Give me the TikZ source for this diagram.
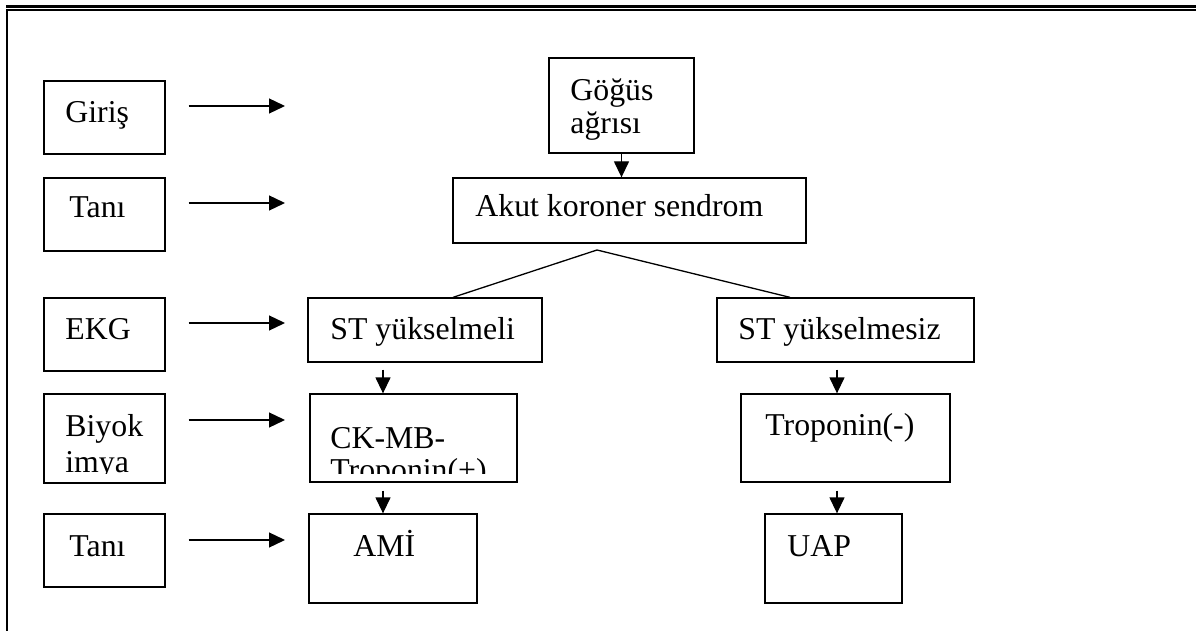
\documentclass[tikz,border=0pt]{standalone}
\usepackage{fontspec}
\setmainfont{Liberation Serif}
\usetikzlibrary{arrows.meta,positioning,calc}

\begin{document}
\begin{tikzpicture}[x=0.5pt, y=-0.5pt,
    box/.style={draw, line width=0.65pt, inner sep=0pt},
    lbl/.style={anchor=base west, inner sep=0pt, font=\fontsize{15.9}{16.5}\selectfont},
    arr/.style={-{Triangle[length=8pt, width=7.5pt]}, line width=0.65pt},
    frame/.style={line width=1.05pt}]
  \useasboundingbox (0,0) rectangle (1196,631);
  % --- Page frame ---
  \draw[frame] (6,6.5) -- (1196,6.5);
  \draw[frame] (6,10) -- (1196,10);
  \draw[frame] (7,10) -- (7,631);
  % --- Left column (steps) ---
  \node[box, minimum width=60.5pt, minimum height=36.5pt] (giris) at (104.5,117.5) {};
  \node[box, minimum width=60.5pt, minimum height=36.5pt] (tani) at (104.5,214.5) {};
  \node[box, minimum width=60.5pt, minimum height=36.5pt] (ekg) at (104.5,334.5) {};
  \node[box, minimum width=60.5pt, minimum height=44.5pt] (biyo) at (104.5,438.5) {};
  \node[box, minimum width=60.5pt, minimum height=36.5pt] (tanib) at (104.5,550.5) {};
  \node[lbl] at (65,123) {Giriş};
  \node[lbl] at (69,218) {Tanı};
  \node[lbl] at (65,340) {EKG};
  \begin{scope}
    \clip (44,394) rectangle (517,473.5);
    \node[lbl] at (65,437) {\begin{tabular}[t]{@{}l@{}}Biyok\\[1pt]imya\end{tabular}};
    \node[lbl] at (330,448) {\begin{tabular}[t]{@{}l@{}}CK-MB-\\Troponin(+)\end{tabular}};
  \end{scope}
  \node[lbl] at (69,556) {Tanı};
  % --- Flow boxes ---
  \node[box, minimum width=72.5pt, minimum height=47.5pt] (gogus) at (621.5,105.5) {};
  \node[box, minimum width=176.5pt, minimum height=32.5pt] (akut) at (629.5,210.5) {};
  \node[box, minimum width=117pt, minimum height=32pt] (styuk) at (425,330) {};
  \node[box, minimum width=103.5pt, minimum height=44pt] (ckmb) at (413.5,438) {};
  \node[box, minimum width=84pt, minimum height=44.5pt] (ami) at (393,558.5) {};
  \node[box, minimum width=128.5pt, minimum height=32pt] (styz) at (845.5,330) {};
  \node[box, minimum width=104.5pt, minimum height=44pt] (trop) at (845.5,438) {};
  \node[box, minimum width=68.5pt, minimum height=44.5pt] (uap) at (833.5,558.5) {};
  \node[lbl] at (570,101) {\begin{tabular}[t]{@{}l@{}}Göğüs\\ağrısı\end{tabular}};
  \node[lbl] at (475,217) {Akut koroner sendrom};
  \node[lbl] at (330,340) {ST yükselmeli};
  \node[lbl] at (353,556) {AMİ};
  \node[lbl] at (738,340) {ST yükselmesiz};
  \node[lbl] at (765,435) {Troponin(-)};
  \node[lbl] at (787,556) {UAP};
  % --- Horizontal arrows ---
  \coordinate (t1) at (285,106);
  \coordinate (t2) at (285,203);
  \coordinate (t3) at (285,323);
  \coordinate (t4) at (285,420);
  \coordinate (t5) at (285,540);
  \draw[arr, shorten <=11.5pt] (giris.east |- t1) -- (t1);
  \draw[arr, shorten <=11.5pt] (tani.east |- t2) -- (t2);
  \draw[arr, shorten <=11.5pt] (ekg.east |- t3) -- (t3);
  \draw[arr, shorten <=11.5pt] (biyo.east |- t4) -- (t4);
  \draw[arr, shorten <=11.5pt] (tanib.east |- t5) -- (t5);
  % --- Vertical arrows ---
  \draw[arr] (gogus.south) -- (gogus.south |- akut.north);
  \draw[arr, shorten <=3.5pt] (383,0 |- styuk.south) -- (383,0 |- ckmb.north);
  \draw[arr, shorten <=4pt] (383,0 |- ckmb.south) -- (383,0 |- ami.north);
  \draw[arr, shorten <=3.5pt] (837,0 |- styz.south) -- (837,0 |- trop.north);
  \draw[arr, shorten <=4pt] (837,0 |- trop.south) -- (837,0 |- uap.north);
  % --- Split ---
  \coordinate (fork) at (597,250);
  \draw[line width=0.65pt] (fork) -- (453,0 |- styuk.north);
  \draw[line width=0.65pt] (fork) -- (790,0 |- styz.north);
\end{tikzpicture}
\end{document}
